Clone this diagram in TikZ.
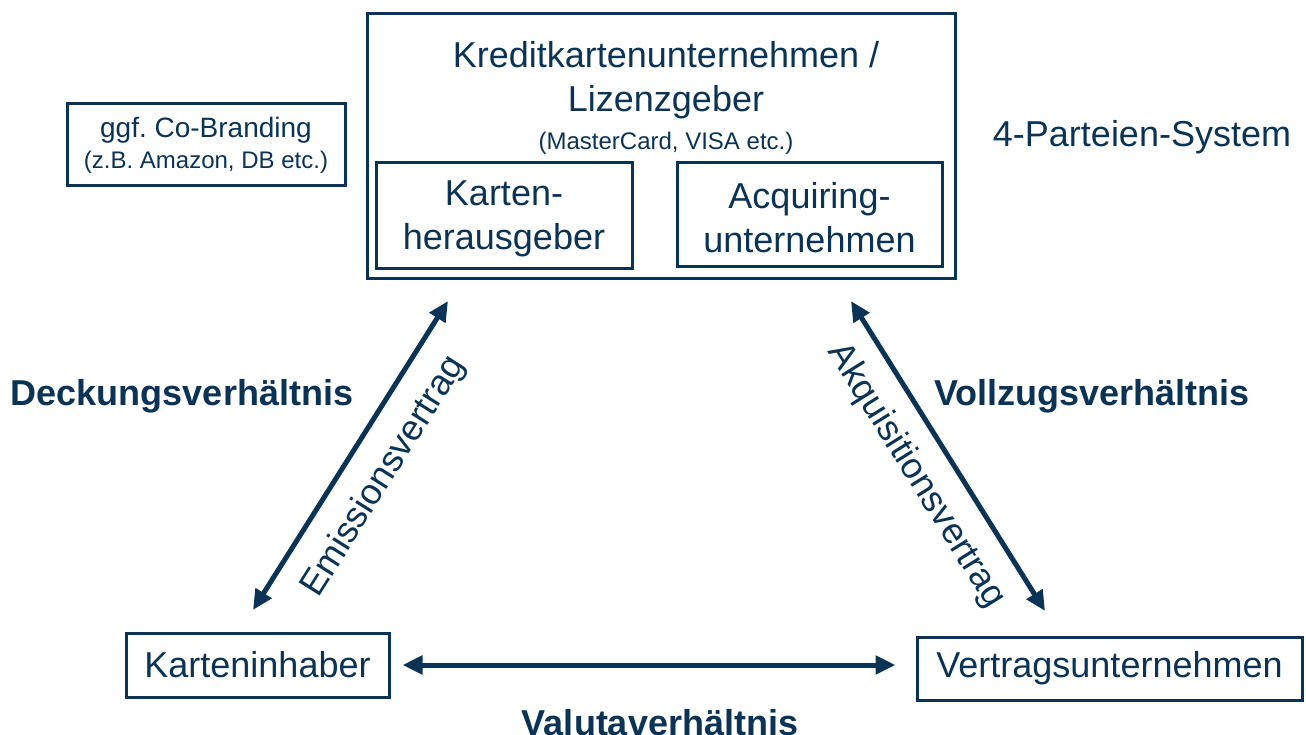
\documentclass[tikz,border=0pt]{standalone}
\usepackage{fontspec}
\setmainfont{Liberation Sans}
\usetikzlibrary{arrows.meta}
\definecolor{navy}{HTML}{0B3356}
\tikzset{
	box/.style={draw=navy, line width=3pt, inner sep=0pt, text=navy, align=center},
	label text/.style={text=navy, align=center, font=\fontsize{36}{44}\selectfont},
	relation/.style={text=navy, font=\fontsize{36}{44}\selectfont\bfseries},
	contract/.style={draw=navy, line width=5pt, <->}
}
\frenchspacing

\begin{document}
\begin{tikzpicture}[x=1pt, y=-1pt, >={Triangle[length=20pt, width=18pt]}]
	\useasboundingbox (0,0) rectangle (1306,735);

	% Kreditkartenunternehmen
	\node[box, minimum width=588pt, minimum height=265pt] (kku) at (661,146.5) {};
	\node[label text]                                  (kkutitle) at (666,80)  {Kreditkartenunternehmen /\\Lizenzgeber};
	\node[label text, font=\fontsize{24}{29}\selectfont] (kkusub) at (666,143) {(MasterCard, VISA etc.)};
	\node[box, label text, minimum width=256pt, minimum height=106pt] (kha) at (504,216)   {\strut Karten-\\herausgeber};
	\node[box, label text, minimum width=265pt, minimum height=104pt] (acq) at (809.5,215) {\strut Acquiring-\\unternehmen};

	\node[box, minimum width=278pt, minimum height=82pt, font=\fontsize{28}{31}\selectfont] (cob) at (206,145)
		{\strut ggf. Co-Branding\\{\fontsize{24}{31}\selectfont(z.B. Amazon, DB etc.)}};
	\node[label text] (sys) at (1142,137) {4-Parteien-System};

	% Parteien unten
	\node[box, label text, minimum width=263pt, minimum height=64pt] (kinh) at (257.5,665)  {Karteninhaber};
	\node[box, label text, minimum width=385pt, minimum height=63pt] (vu)   at (1109.5,668.5) {Vertragsunternehmen};

	% Verhaeltnisse
	\node[relation] (deck) at (182,396) {Deckungsverhältnis};
	\node[relation] (voll) at (1092,396) {Vollzugsverhältnis};
	\node[relation, anchor=base] (valuta) at (660,735) {Valutaverhältnis};

	\coordinate (em1) at (253,610);
	\coordinate (em2) at (448,301);
	\coordinate (ak1) at (851,301);
	\coordinate (ak2) at (1045,611);

	\draw[contract] (em1) -- node[midway, sloped, below=17pt, label text] (emlbl) {Emissionsvertrag} (em2);
	\draw[contract] (ak1) -- node[midway, sloped, below=15pt, label text] (aklbl) {Akquisitionsvertrag} (ak2);
	\draw[contract] ([xshift=12pt]kinh.east) -- ([xshift=-20pt]kinh.east -| vu.west);
\end{tikzpicture}
\end{document}
